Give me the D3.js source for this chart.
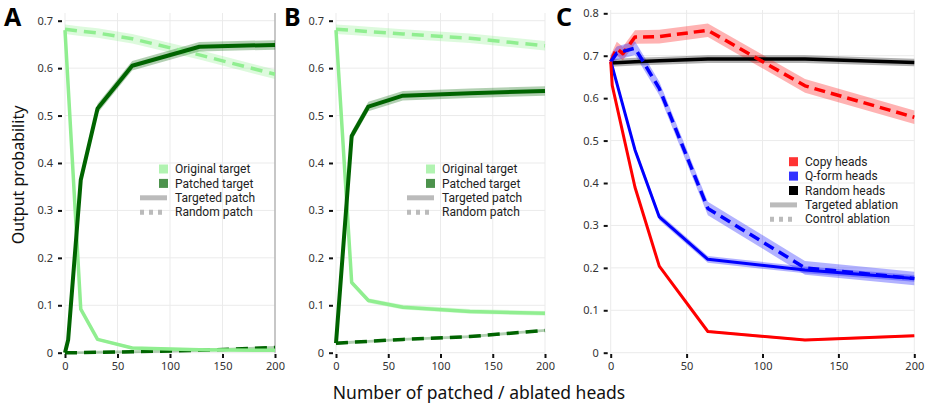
<!DOCTYPE html>
<html>
<head>
<meta charset="utf-8">
<script src="https://cdn.jsdelivr.net/npm/d3@7"></script>
<style>
  body { margin: 0; background: #fff; }
  svg { font-family: "Noto Sans", sans-serif; }
</style>
</head>
<body>
<svg width="925" height="404"></svg>
<script>
// x positions (number of heads) for panels A and B
var headsAB = [0, 3, 15, 31, 64, 128, 200];
// panel A
var origTargA = [0.68, null, 0.092, 0.028, 0.010, 0.006, 0.005];
var patchTargA = [0, 0.027, 0.364, 0.515, 0.605, 0.645, 0.649];
var origRandA = [0.682, null, 0.678, 0.674, 0.662, 0.628, 0.587];
var patchRandA = [0, null, 0, 0.001, 0.002, 0.005, 0.011];
// panel B
var origTargB = [0.68, null, 0.148, 0.11, 0.096, 0.087, 0.083];
var patchTargB = [0.02, null, 0.457, 0.519, 0.542, 0.547, 0.552];
var origRandB = [0.682, null, 0.680, 0.677, 0.672, 0.663, 0.647];
var patchRandB = [0.02, null, 0.022, 0.024, 0.028, 0.034, 0.047];
// panel C
var headsC = [0, 1, 4, 8, 16, 32, 64, 128, 200];
var copyTarg = [0.686, 0.63, null, null, 0.39, 0.204, 0.05, 0.03, 0.04];
var copyCtrl = [0.686, null, 0.717, 0.705, 0.744, 0.745, 0.76, 0.629, 0.555];
var qTarg = [0.686, 0.675, null, null, 0.478, 0.32, 0.22, 0.195, 0.175];
var qCtrl = [0.686, null, 0.706, null, 0.718, 0.623, 0.34, 0.20, 0.175];
var randC = [0.683, null, null, null, 0.686, 0.688, 0.692, 0.692, 0.684];

var xTicks = [0, 50, 100, 150, 200];
var yTicksAB = [0, 0.1, 0.2, 0.3, 0.4, 0.5, 0.6, 0.7];
var yTicksC = [0, 0.1, 0.2, 0.3, 0.4, 0.5, 0.6, 0.7, 0.8];

var svg = d3.select("svg");

function pts(xs, ys, ci) {
    var out = [];
    xs.forEach(function (x, i) {
        if (ys[i] != null) out.push({ x: x, y: ys[i], ci: ci });
    });
    return out;
}

function panel(opt) {
    var x = d3.scaleLinear().domain([0, 200]).range(opt.xr);
    var y = d3.scaleLinear().domain(opt.yd).range(opt.yr);
    var g = svg.append("g");
    var top = opt.top, bottom = 355;

    // grid
    g.selectAll(".vg").data(xTicks).enter().append("line")
        .attr("x1", function (d) { return x(d) }).attr("x2", function (d) { return x(d) })
        .attr("y1", top).attr("y2", bottom)
        .attr("stroke", "#ebebeb").attr("stroke-width", 1);
    g.selectAll(".hg").data(opt.yTicks).enter().append("line")
        .attr("x1", opt.xr[0]).attr("x2", opt.xr[1])
        .attr("y1", function (d) { return y(d) }).attr("y2", function (d) { return y(d) })
        .attr("stroke", "#ebebeb").attr("stroke-width", 1);
    if (opt.rightBorder) {
        g.append("line").attr("x1", x(200)).attr("x2", x(200))
            .attr("y1", top).attr("y2", y(0))
            .attr("stroke", "#a8a8a8").attr("stroke-width", 1.2);
    }

    // axes
    var ya = g.append("g").attr("transform", "translate(" + (opt.xr[0] - 3) + ",0)")
        .call(d3.axisLeft(y).tickValues(opt.yTicks).tickSize(4).tickPadding(5).tickFormat(d3.format("")));
    var xa = g.append("g").attr("transform", "translate(0,354)")
        .call(d3.axisBottom(x).tickValues(xTicks).tickSize(4).tickPadding(4));
    [ya, xa].forEach(function (a) {
        a.select(".domain").remove();
        a.selectAll(".tick line").attr("stroke", "#111").attr("stroke-width", 2);
        a.selectAll(".tick text").attr("fill", "#333").style("font-size", "11px")
            .style("font-family", "'Noto Sans', sans-serif");
    });

    var area = d3.area()
        .x(function (d) { return x(d.x) })
        .y0(function (d) { return y(d.y - d.ci) })
        .y1(function (d) { return y(d.y + d.ci) });
    var line = d3.line()
        .x(function (d) { return x(d.x) })
        .y(function (d) { return y(d.y) });

    opt.series.forEach(function (s) {
        var data = pts(s.xs, s.ys, s.ci);
        g.append("path").datum(data)
            .attr("fill", s.color).attr("fill-opacity", 0.3)
            .attr("d", area);
    });
    opt.series.forEach(function (s) {
        var data = pts(s.xs, s.ys, s.ci);
        g.append("path").datum(data)
            .attr("fill", "none")
            .attr("stroke", s.color)
            .attr("stroke-width", s.w)
            .attr("stroke-dasharray", s.dash ? s.dash : null)
            .attr("stroke-linejoin", "round")
            .attr("d", line);
    });

    // legend
    var lg = g.append("g").attr("transform", "translate(" + opt.legend[0] + "," + opt.legend[1] + ")");
    opt.legendItems.forEach(function (it, i) {
        var cy = i * 14.4;
        if (it.type === "sq") {
            lg.append("rect").attr("x", -16).attr("y", cy - 4.5).attr("width", 9).attr("height", 9)
                .attr("fill", it.color);
        } else {
            lg.append("line").attr("x1", -35).attr("x2", -8).attr("y1", cy).attr("y2", cy)
                .attr("stroke", "#bbbbbb").attr("stroke-width", 5)
                .attr("stroke-dasharray", it.type === "dash" ? "4,5" : null);
        }
        lg.append("text").attr("x", 0).attr("y", cy).attr("dy", "0.35em")
            .attr("fill", "#222").style("font-size", "12px")
            .style("font-family", "Roboto, sans-serif").text(it.label);
    });

    svg.append("text").attr("x", opt.letter[0]).attr("y", 26)
        .style("font-size", "25px").style("font-weight", "bold").attr("fill", "#000")
        .text(opt.name);
}

var lightG = "#90ee90", darkG = "#006400";
var legAB = [
    { type: "sq", color: "#b1f3b1", label: "Original target" },
    { type: "sq", color: "#4c924c", label: "Patched target" },
    { type: "solid", label: "Targeted patch" },
    { type: "dash", label: "Random patch" }
];

panel({
    name: "A", letter: [4, 26],
    xr: [65, 275], yd: [0, 0.7], yr: [352.7, 20.7], top: 13, yTicks: yTicksAB, rightBorder: true,
    legend: [175, 169], legendItems: legAB,
    series: [
        { xs: headsAB, ys: origRandA, color: lightG, w: 3.5, dash: "12,7", ci: 0.01 },
        { xs: headsAB, ys: patchRandA, color: darkG, w: 3.5, dash: "12,7", ci: 0.003 },
        { xs: headsAB, ys: origTargA, color: lightG, w: 3.5, ci: 0.003 },
        { xs: headsAB, ys: patchTargA, color: darkG, w: 4, ci: 0.01 }
    ]
});

panel({
    name: "B", letter: [284, 26],
    xr: [336, 545], yd: [0, 0.7], yr: [352.7, 20.7], top: 13, yTicks: yTicksAB,
    legend: [442, 169], legendItems: legAB,
    series: [
        { xs: headsAB, ys: origRandB, color: lightG, w: 3.5, dash: "12,7", ci: 0.01 },
        { xs: headsAB, ys: patchRandB, color: darkG, w: 3.5, dash: "12,7", ci: 0.003 },
        { xs: headsAB, ys: origTargB, color: lightG, w: 3.5, ci: 0.005 },
        { xs: headsAB, ys: patchTargB, color: darkG, w: 4, ci: 0.01 }
    ]
});

panel({
    name: "C", letter: [556, 26],
    xr: [610.7, 914.3], yd: [0, 0.8], yr: [352.7, 13.3], top: 10, yTicks: yTicksC,
    legend: [805, 161.7],
    legendItems: [
        { type: "sq", color: "#ff3333", label: "Copy heads" },
        { type: "sq", color: "#3333ff", label: "Q-form heads" },
        { type: "sq", color: "#000000", label: "Random heads" },
        { type: "solid", label: "Targeted ablation" },
        { type: "dash", label: "Control ablation" }
    ],
    series: [
        { xs: headsC, ys: randC, color: "#000", w: 3.5, ci: 0.009 },
        { xs: headsC, ys: copyCtrl, color: "#ff0000", w: 3.5, dash: "11,6", ci: 0.016 },
        { xs: headsC, ys: qCtrl, color: "#0000ff", w: 3.5, dash: "11,6", ci: 0.016 },
        { xs: headsC, ys: qTarg, color: "#0000ff", w: 3, ci: 0.008 },
        { xs: headsC, ys: copyTarg, color: "#ff0000", w: 3, ci: 0.003 }
    ]
});

svg.append("text").attr("transform", "translate(24,175) rotate(-90)")
    .attr("text-anchor", "middle").style("font-size", "16px").attr("fill", "#111")
    .text("Output probability");
svg.append("text").attr("x", 479).attr("y", 399)
    .attr("text-anchor", "middle").style("font-size", "17.5px").attr("fill", "#111")
    .text("Number of patched / ablated heads");
</script>
</body>
</html>
